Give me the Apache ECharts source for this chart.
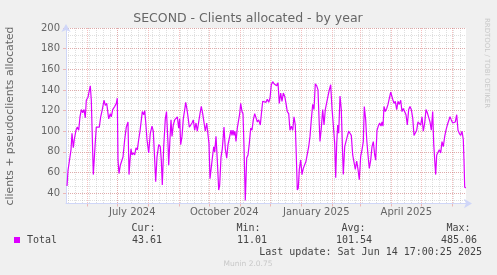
<!DOCTYPE html>
<html>
<head>
<meta charset="utf-8">
<title>SECOND - Clients allocated - by year</title>
<script src="https://cdn.jsdelivr.net/npm/echarts@6/dist/echarts.min.js"></script>
<style>
  html, body { margin: 0; padding: 0; background: #f0f0f0; }
  #chart { width: 497px; height: 275px; }
</style>
</head>
<body>
<div id="chart"></div>
<script>
const DAY = 86400000;
const periodEnd = Date.UTC(2025, 5, 14, 17, 0, 25);
const periodStart = periodEnd - 400 * DAY;

// days since start of the 400 day window
const dayOffsets = [
  1, 2, 3.3, 5, 6, 7.3, 8.3, 10, 11.3, 12.7, 14, 15.3, 16.7, 18, 19.3, 20.3, 22, 23, 24.3, 25.3,
  27.3, 29, 30.3, 32, 33.3, 34.7, 36.3, 38, 39.3, 40.7, 42.7, 44.3, 45.3, 46.7, 48.7, 50.3, 51.3, 52, 53, 54.3,
  55.7, 57, 58.7, 60.3, 62, 63, 64, 65, 66, 67.3, 68.7, 70, 71.3, 72.7, 74, 75.3, 76.3, 77.7, 78.7, 79.7,
  81, 82.7, 84.3, 86, 87.3, 88.7, 89.7, 91, 92.7, 94.3, 95.3, 96.3, 97.7, 99.3, 100.5,
  102, 102.7, 104, 105, 106, 107.3, 108.7, 110, 111.3, 112.7, 113.7, 114.7, 116, 117.3, 118.7, 119.7, 121, 122, 123.3, 124.7,
  126, 127.3, 128.7, 130, 131.3, 132.7, 134, 135.3, 136.7, 138, 139.3, 140.7, 142, 143, 144, 145.3, 146.7, 147.7, 148.7, 150,
  151.3, 152.7, 153.7, 155, 156.3, 158, 159.3, 160.7, 162, 163.3, 165, 166, 167, 168, 169, 170, 171.3, 172.7, 173.7, 174.7,
  176, 177, 178, 179.3, 180.7, 182, 183.3, 184.7, 186, 187.3, 188.7, 190, 191.3, 192.7, 194.3, 195.3, 196.7,
  198.7, 200, 201.3, 202.7, 204, 205.3, 206.7, 208, 209.3, 210.7, 212, 213.3, 214.7, 216, 217.3, 218.7, 220, 221.3, 222.7, 224,
  225.3, 226.7, 228, 229.3, 230.3, 231.3, 232.3, 233.3, 234.7, 236, 237.3, 238.7, 240, 241.3, 242.7, 244, 245.3, 246.7, 248, 249.3,
  250.7, 252, 253, 254, 255.3, 256.7, 258, 259.3, 260.7, 262, 263.3, 264.7, 266, 267.3, 268.7, 269.7, 270.7, 271.7, 272.7, 274,
  275.3, 276.3, 277.3, 278.7, 280, 281.3, 282.7, 284, 285.3, 286.7, 288, 289.3, 290.7, 292, 293.3, 294.7, 296, 297.3, 298.3, 299.7, 300.7,
  302, 303.3, 304.7, 306, 307.3, 308.7, 309.7, 311, 312.3, 313.7, 315, 316, 317, 318, 319.3, 320.7, 322, 323.3, 324.7, 325.7,
  326.7, 328, 329.3, 330.7, 332, 333.3, 334.7, 336, 337.3, 338.7, 340, 341.3, 342.7, 344, 345.3, 346.7, 348, 349.3, 350.7, 352,
  353.3, 354.7, 356, 357.3, 358.7, 360, 361.3, 362.7, 364, 365.3, 366.7, 367.7, 368.7, 369.7, 370.7, 372, 373.3, 374.7, 376, 377.3,
  378.7, 380, 381.3, 382.7, 384, 385.3, 386.7, 388, 389.3, 390.7, 392, 393.3, 394.7, 396, 397.3, 398, 398.7, 399.7
];
const clients = [
  47, 62, 61, 82, 98, 84, 92, 101, 104, 101, 114, 121, 118, 121, 113, 130, 133, 138, 144, 130,
  58, 85, 104, 103, 104, 114, 121, 130, 125, 127, 112, 117, 114, 121, 124, 127, 132, 72, 59, 67,
  66, 75, 92, 104, 109, 58, 72, 83, 77, 79, 77, 84, 82, 92, 100, 100, 119, 116, 120, 109,
  92, 79, 98, 105, 100, 72, 51, 75, 87, 85, 72, 48, 85, 112, 119,
  88, 67, 93, 111, 95, 106, 111, 111, 114, 103, 112, 87, 95, 112, 121, 128, 121, 114, 104, 106,
  108, 111, 101, 108, 100, 109, 117, 124, 117, 116, 100, 108, 109, 88, 54, 54, 77, 85, 80, 95,
  72, 43, 48, 75, 83, 104, 83, 74, 87, 93, 101, 96, 101, 96, 100, 90, 103, 104, 117, 127,
  119, 117, 85, 33, 74, 77, 88, 103, 101, 111, 117, 116, 109, 111, 106, 116, 129,
  130, 128, 131, 128, 132, 145, 148, 146, 146, 144, 147, 127, 137, 129, 137, 134, 127, 119, 117, 101,
  105, 101, 114, 106, 76, 43, 45, 63, 72, 58, 64, 64, 71, 72, 85, 95, 111, 126, 121, 146,
  144, 140, 113, 90, 103, 121, 106, 121, 122, 134, 140, 145, 122, 106, 88, 55, 88, 106, 98, 134,
  121, 88, 58, 85, 86, 95, 100, 101, 96, 77, 76, 63, 71, 63, 53, 76, 82, 90, 124, 111, 92,
  77, 64, 72, 85, 90, 77, 72, 101, 105, 108, 105, 109, 105, 124, 119, 122, 126, 127, 138, 139,
  131, 127, 129, 121, 129, 126, 130, 119, 122, 121, 116, 106, 121, 124, 121, 113, 96, 95, 101, 109,
  108, 106, 114, 100, 108, 121, 118, 119, 109, 101, 119, 88, 72, 58, 77, 76, 82, 79, 90, 85,
  95, 101, 106, 106, 114, 111, 108, 108, 109, 116, 101, 98, 96, 100, 92, 72, 46, 45
];

const yMajorTicks = [40, 60, 80, 100, 120, 140, 160, 180, 200];
const quarterStarts = ['2024-07-01', '2024-10-01', '2025-01-01', '2025-04-01'];
const quarterLabels = ['July 2024', 'October 2024', 'January 2025', 'April 2025'];
const statNames = ['Cur:', 'Min:', 'Avg:', 'Max:'];
const statValues = ['43.61', '11.01', '101.54', '485.06'];

const LINE = '#dd00ff';
const AXIS = '#cfd6f8';
const MAJOR = 'rgba(225, 90, 90, 0.38)';
const MINOR = 'rgba(150, 150, 150, 0.3)';
const FONT = '#666';

// grid helpers
const monthStarts = [];
for (let m = 4; m < 4 + 14; m++) {
  const t = Date.UTC(2024, m, 1);
  if (t > periodStart && t < periodEnd) monthStarts.push(t);
}
const weekStarts = [];
for (let t = Date.UTC(2024, 4, 13); t < periodEnd; t += 7 * DAY) weekStarts.push(t);
const labelTimes = quarterStarts.map(s => Date.parse(s + 'T00:00:00Z') + 15 * DAY);
const yMinorTicks = [];
for (let i = -1; i <= 24; i++) yMinorTicks.push(40 + i * 20 / 3);

const seriesData = dayOffsets.map((d, i) => [periodStart + d * DAY, clients[i]]);

const chart = echarts.init(document.getElementById('chart'));

const baseX = extra => Object.assign({
  type: 'value', min: periodStart, max: periodEnd, position: 'bottom',
  axisLine: { show: false }, axisTick: { show: false },
  axisLabel: { show: false }, splitLine: { show: false }
}, extra);
const baseY = extra => Object.assign({
  type: 'value', min: 30, max: 200, position: 'left',
  axisLine: { show: false }, axisTick: { show: false },
  axisLabel: { show: false }, splitLine: { show: false }
}, extra);

chart.setOption({
  backgroundColor: '#f0f0f0',
  animation: false,
  grid: {
    left: 66, top: 28, width: 400, height: 175.5,
    show: true, backgroundColor: '#fff', borderWidth: 0
  },
  xAxis: [
    baseX({
      z: 1,
      axisTick: { show: false, customValues: weekStarts },
      splitLine: { show: true, lineStyle: { color: MINOR, type: 'dotted', width: 1 } }
    }),
    baseX({
      z: 2,
      axisTick: { show: true, customValues: monthStarts, length: 3, lineStyle: { color: MAJOR } },
      splitLine: { show: true, lineStyle: { color: MAJOR, type: 'dotted', width: 1 } }
    }),
    baseX({
      z: 3,
      axisLabel: {
        show: true, customValues: labelTimes, margin: 4,
        color: FONT, fontSize: 10, fontFamily: 'DejaVu Sans',
        formatter: v => quarterLabels[labelTimes.indexOf(v)] || ''
      }
    }),
    baseX({
      z: 4,
      axisLine: {
        show: true, symbol: ['none', 'arrow'], symbolSize: [7, 8], symbolOffset: [0, 6],
        lineStyle: { color: AXIS, width: 1 }
      }
    })
  ],
  yAxis: [
    baseY({
      z: 1,
      axisTick: { show: false, customValues: yMinorTicks },
      splitLine: { show: true, lineStyle: { color: MINOR, type: 'dotted', width: 1 } }
    }),
    baseY({
      z: 2,
      axisTick: { show: true, customValues: yMajorTicks, length: 3, lineStyle: { color: MAJOR } },
      splitLine: { show: true, lineStyle: { color: MAJOR, type: 'dotted', width: 1 } },
      axisLabel: {
        show: true, customValues: yMajorTicks, margin: 6,
        color: FONT, fontSize: 10, fontFamily: 'DejaVu Sans'
      }
    }),
    baseY({
      z: 4,
      axisLine: {
        show: true, symbol: ['none', 'arrow'], symbolSize: [7, 8], symbolOffset: [0, 4],
        lineStyle: { color: AXIS, width: 1 }
      }
    })
  ],
  series: [{
    name: 'Total',
    type: 'line',
    xAxisIndex: 3,
    yAxisIndex: 2,
    z: 5,
    showSymbol: false,
    lineStyle: { color: LINE, width: 1.2 },
    data: seriesData
  }],
  graphic: [
    { type: 'text', x: 248, y: 19, style: { text: 'SECOND - Clients allocated - by year', fill: FONT,
      font: '12.5px "DejaVu Sans"', textAlign: 'center', textVerticalAlign: 'middle' } },
    { type: 'text', x: 10, y: 116, rotation: Math.PI / 2, style: { text: 'clients + pseudoclients allocated',
      fill: FONT, font: '10.8px "DejaVu Sans"', textAlign: 'center', textVerticalAlign: 'middle' } },
    { type: 'text', x: 487, y: 63, rotation: -Math.PI / 2, style: { text: 'RRDTOOL / TOBI OETIKER',
      fill: '#c8c8c8', font: '7px "DejaVu Sans"', textAlign: 'center', textVerticalAlign: 'middle' } },
    { type: 'rect', shape: { x: 14, y: 237, width: 6, height: 6 }, style: { fill: LINE } },
    { type: 'text', x: 27, y: 240, style: { text: 'Total', fill: '#444',
      font: '10px "DejaVu Sans Mono"', textVerticalAlign: 'middle' } },
    ...statNames.map((s, i) => ({ type: 'text', x: 131.5 + i * 105, y: 228, style: { text: s, fill: '#444',
      font: '10px "DejaVu Sans Mono"', textVerticalAlign: 'middle' } })),
    ...statValues.map((s, i) => ({ type: 'text', x: 162 + i * 105, y: 240, style: { text: s, fill: '#444',
      font: '10px "DejaVu Sans Mono"', textAlign: 'right', textVerticalAlign: 'middle' } })),
    { type: 'text', x: 482, y: 252, style: { text: 'Last update: Sat Jun 14 17:00:25 2025', fill: '#444',
      font: '10px "DejaVu Sans Mono"', textAlign: 'right', textVerticalAlign: 'middle' } },
    { type: 'text', x: 248, y: 264, style: { text: 'Munin 2.0.75', fill: '#c8c8c8',
      font: '7.5px "DejaVu Sans"', textAlign: 'center', textVerticalAlign: 'middle' } }
  ]
});
</script>
</body>
</html>
